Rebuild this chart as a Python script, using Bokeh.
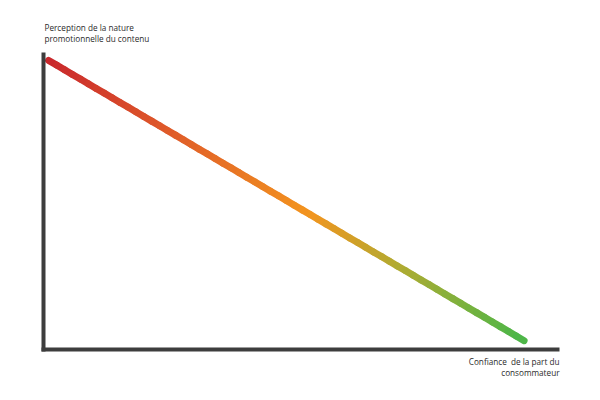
import numpy as np
from bokeh.plotting import figure
from bokeh.models import Range1d, Title
from bokeh.embed import file_html
from bokeh.resources import INLINE

# Conceptual data: perception of promotional nature vs consumer trust
line_x = [1.0, 93.5]
line_y = [98.0, 3.0]
y_label_lines = ["Perception de la nature", "promotionnelle du contenu"]
x_label_lines = ["Confiance\u00a0 de la part du", "consommateur"]

# gradient colour stops (position along the line, colour)
stop_pos = [0.0, 0.25, 0.55, 0.75, 1.0]
stop_col = ["#c9272d", "#df5a2a", "#f3941f", "#aeac33", "#4bb749"]

p = figure(width=584, height=384, output_backend="svg", toolbar_location=None,
           x_range=Range1d(0, 100), y_range=Range1d(0, 100),
           min_border_left=43, min_border_right=27, min_border_top=54, min_border_bottom=35)
p.outline_line_color = None
p.grid.visible = False
p.background_fill_color = "white"
p.border_fill_color = "white"

for ax in (p.xaxis, p.yaxis):
    ax.axis_line_width = 4
    ax.axis_line_color = "#3d3d3d"
    ax.axis_line_cap = "square"
    ax.major_tick_line_color = None
    ax.minor_tick_line_color = None
    ax.major_label_text_font_size = "0px"
    ax.major_label_text_color = None

# draw the line as many short segments to emulate a colour gradient
n = 60
t = np.linspace(0, 1, n + 1)
xs = line_x[0] + (line_x[1] - line_x[0]) * t
ys = line_y[0] + (line_y[1] - line_y[0]) * t

def hex2rgb(h):
    h = h.lstrip("#")
    return np.array([int(h[i:i + 2], 16) for i in (0, 2, 4)], dtype=float)

rgbs = np.array([hex2rgb(c) for c in stop_col])
tm = (t[:-1] + t[1:]) / 2
cols = []
for tt in tm:
    r = np.interp(tt, stop_pos, rgbs[:, 0])
    g = np.interp(tt, stop_pos, rgbs[:, 1])
    b = np.interp(tt, stop_pos, rgbs[:, 2])
    cols.append("#%02x%02x%02x" % (int(r), int(g), int(b)))

p.segment(x0=xs[:-1], y0=ys[:-1], x1=xs[1:], y1=ys[1:], line_color=cols,
          line_width=7, line_cap="round")

font = "Open Sans"
fs = "8.2px"
p.add_layout(Title(text="\n".join(y_label_lines), align="left", text_font=font,
                   text_font_size=fs, text_font_style="normal", text_color="#2a2a2a",
                   text_line_height=1.0, standoff=21, offset=1), "above")
p.add_layout(Title(text="\n".join(x_label_lines), align="right", text_font=font,
                   text_font_size=fs, text_font_style="normal", text_color="#2a2a2a",
                   text_line_height=1.0, standoff=-3, offset=-2, text_align="right"), "below")

open("out.html", "w").write(file_html(p, INLINE))
